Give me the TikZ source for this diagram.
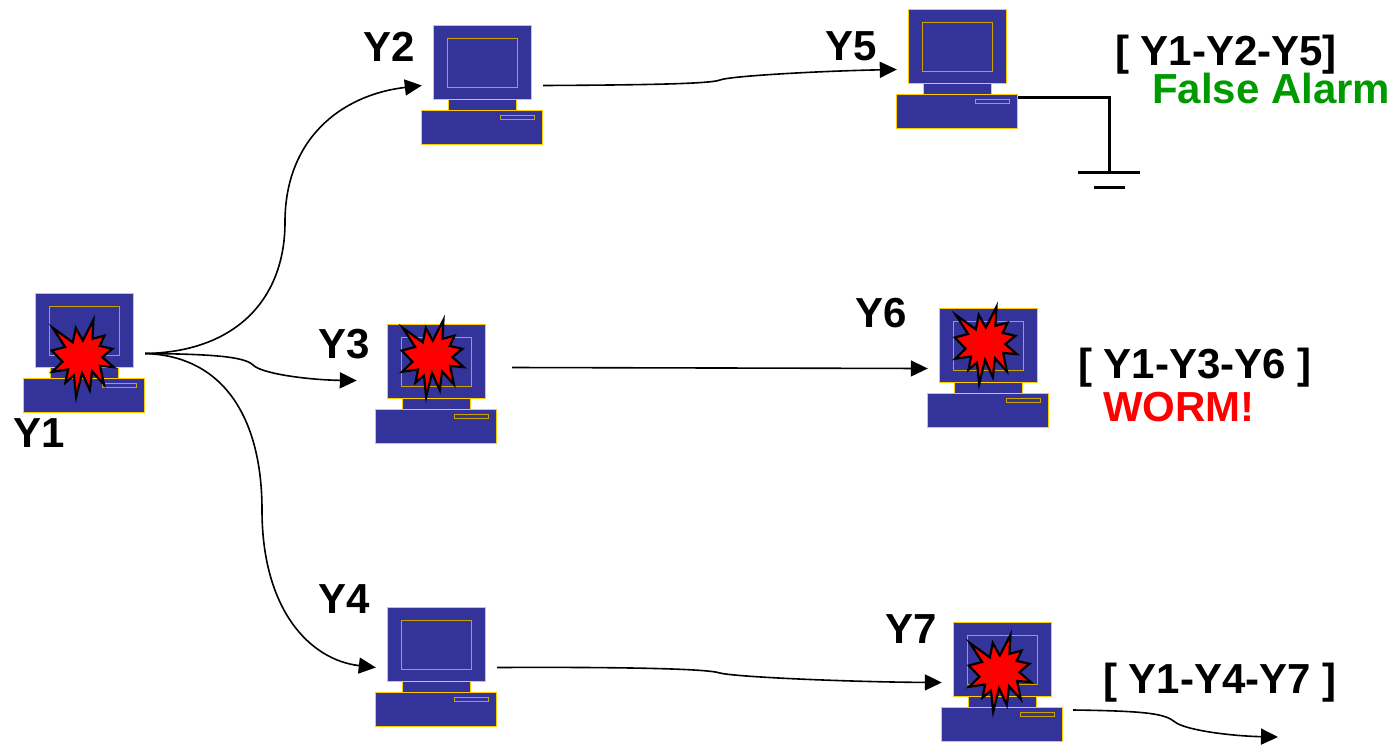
\documentclass[tikz,border=0pt]{standalone}
\usepackage{fontspec}
\setmainfont{Liberation Sans}
\usetikzlibrary{arrows.meta}
\definecolor{pcblue}{HTML}{333399}
\definecolor{pcgold}{HTML}{FFCC00}
\definecolor{alarmgreen}{HTML}{009900}
\tikzset{
	pcbody/.style={fill=pcblue, draw=pcgold, line width=1pt},
	pcscreen/.style={draw=pcgold!80!black, line width=1pt},
	computer/.pic={
		\draw[pcbody] (12,0) rectangle (110,74);
		\draw[pcscreen] (26,13) rectangle (96,62);
		\draw[pcbody] (27,74) rectangle (95,85);
		\draw[pcbody] (0,85) rectangle (121,119);
		\draw[pcscreen] (79,90) rectangle (113,94);
	},
	burst/.pic={
		\draw[fill=red, draw=black, line width=2.2pt, xscale=0.62, yscale=0.77]
			(50,26.9) -- (67.2,0) -- (65.5,24.7) -- (85.1,20.6) -- (77.3,33.9) -- (97.7,37.7)
			-- (81.5,48.5) -- (100,61.5) -- (77.9,59.9) -- (84,83.8) -- (64.9,66.9) -- (61.3,91.4)
			-- (48.8,69.1) -- (39.3,100) -- (35.7,72.3) -- (22,81.6) -- (26.2,64.5) -- (0.6,67.5)
			-- (17.2,54.5) -- (0,39.9) -- (21.4,35.3) -- (1.7,10.6) -- (33.9,29.3) -- (38.7,10.6) -- cycle;
	},
}
\begin{document}
\begin{tikzpicture}[x=1pt, y=-1pt,
		pc/.style={draw=none, minimum width=121pt, minimum height=119pt, inner sep=0pt},
		lbl/.style={font=\fontsize{42}{50}\selectfont\bfseries, anchor=base west, inner sep=0pt, text depth=0pt},
		conn/.style={-{Triangle[length=17pt, width=16pt]}, line width=1.6pt},
		wire/.style={line width=3pt}]
	\useasboundingbox (0,0) rectangle (1394,745);

	\node[pc] (y1) at (84.5,353.5) {};
	\node[pc] (y2) at (482.5,85.5) {};
	\node[pc] (y3) at (436.5,384.5) {};
	\node[pc] (y4) at (436.5,667.5) {};
	\node[pc] (y5) at (957.5,69.5) {};
	\node[pc] (y6) at (988.5,368.5) {};
	\node[pc] (y7) at (1002.5,682.5) {};

	\foreach \n in {y1,y2,y3,y4,y5,y6,y7}
		\pic at (\n.north west) {computer};
	\foreach \n/\dx/\dy in {y1/28/26, y3/26/-5, y6/27/-2, y7/27/12}
		\pic at ([shift={(\dx,\dy)}]\n.north west) {burst};

	\node[lbl] (ly1) at (13,447) {Y1};
	\node[lbl] (ly2) at (363,61) {Y2};
	\node[lbl] (ly3) at (318,358) {Y3};
	\node[lbl] (ly4) at (318,613) {Y4};
	\node[lbl] (ly5) at (825,60) {Y5};
	\node[lbl] (ly6) at (855,327) {Y6};
	\node[lbl] (ly7) at (885,643) {Y7};

	\node[lbl] (path5) at (1115,65) {[ Y1-Y2-Y5]};
	\node[lbl, text=alarmgreen] (false) at (1152,103) {False Alarm};
	\node[lbl] (path6) at (1078,378) {[ Y1-Y3-Y6 ]};
	\node[lbl, text=red] (worm) at (1103,421) {WORM!};
	\node[lbl] (path7) at (1103,693) {[ Y1-Y4-Y7 ]};

	\coordinate (gnd) at (1109,172);
	\coordinate (out) at (1278,737);

	\draw[conn] (y1.east) .. controls (235,352) and (285,300) .. (285,222)
		.. controls (285,140) and (340,95) .. (y2.west);
	\draw[conn] (y1.east) .. controls (215,354) and (245,357) .. (253,365)
		.. controls (262,374) and (310,380) .. ([shift={(-19,-4)}]y3.west);
	\draw[conn] (y1.east) .. controls (225,356) and (262,420) .. (262,510)
		.. controls (262,610) and (310,660) .. (y4.west);
	\draw[conn] (y2.east) .. controls (640,85) and (710,84) .. (720,80)
		.. controls (730,76) and (820,71) .. (y5.west);
	\draw[conn] ([shift={(15,-17)}]y3.east) -- (y6.west);
	\draw[conn] (y4.east) .. controls (600,667) and (705,668) .. (720,673)
		.. controls (735,677) and (850,682) .. (y7.west);
	\draw[conn] ([shift={(10,27.5)}]y7.east) .. controls (1150,711) and (1165,714) .. (1175,722)
		.. controls (1185,730) and (1230,736) .. (out);

	\draw[wire] ([shift={(0,27.5)}]y5.east) -| (gnd);
	\draw[wire] ([xshift=-31pt]gnd) -- ([xshift=31pt]gnd);
	\draw[wire] ([shift={(-15,15)}]gnd) -- ([shift={(16,15)}]gnd);
\end{tikzpicture}
\end{document}
